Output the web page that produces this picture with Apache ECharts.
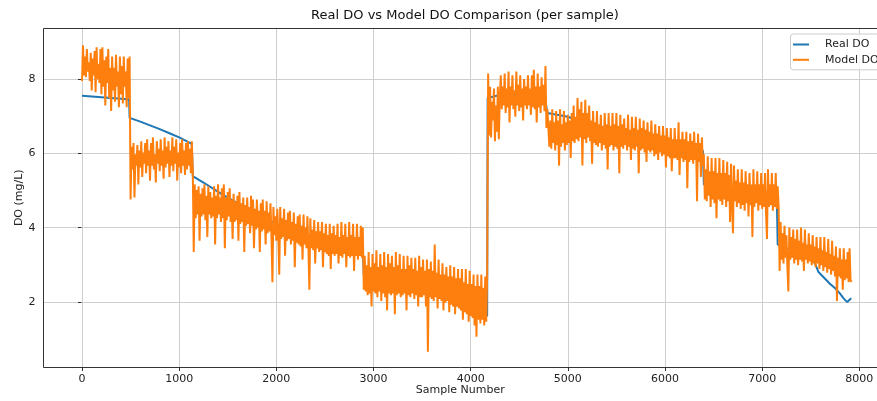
<!DOCTYPE html>
<html><head><meta charset="utf-8">
<script src="https://cdn.jsdelivr.net/npm/echarts@6/dist/echarts.min.js"></script>
<style>html,body{margin:0;padding:0;background:#fff}#c{width:877px;height:401px}</style>
</head><body><div id="c"></div>
<script>
// ---- tick labels ----
const xTickValues = [0, 1000, 2000, 3000, 4000, 5000, 6000, 7000, 8000];
const yTickValues = [2, 4, 6, 8];

// ---- Real DO (sample number, value) ----
const realSamples = [0,100,200,300,400,485, 490,600,700,800,900,1000,1100,1130,
  1140,1250,1450,1600,1800,2000,2200,2400,2600,2890,
  2900,3200,3500,3700,3950,4020,4170,
  4175,4300,4500,4770,
  4790,5000,5300,5600,6000,6390,
  6400,6800,7150,
  7160,7400,7532,7580,7700,7755,7800,7838,7875,7917];
const realValues = [7.56,7.54,7.52,7.5,7.48,7.46, 6.97,6.87,6.77,6.67,6.56,6.45,6.32,6.28,
  5.42,5.25,4.92,4.7,4.4,4.15,3.95,3.8,3.65,3.5,
  2.8,2.65,2.45,2.25,2.02,1.86,1.7,
  7.5,7.58,7.5,7.4,
  7.1,7.0,6.7,6.55,6.3,6.1,
  5.2,5.05,4.95,
  3.6,3.35,3.18,2.87,2.55,2.43,2.3,2.17,2.07,2.17];

// ---- Model DO, read every 10 samples, per segment ----
const sampleStep = 10;
const segmentStarts = [0, 500, 1150, 2900, 4180, 4800, 6400, 7180];
const model1 = [
  7.95,8.9,8.1,8.6,8.05,8.8,8.2,8.45,7.95,8.7,
  7.7,8.55,8.1,8.75,7.65,8.85,8.0,8.4,7.9,8.8,
  7.6,8.85,7.8,8.5,7.3,8.6,7.9,8.8,7.5,8.3,
  7.15,8.6,7.7,8.3,7.4,8.65,7.8,8.2,7.25,8.6,
  7.6,8.35,7.35,8.6,7.8,8.2,7.25,8.55,7.5,8.6];
const model2 = [
  4.8,6.2,5.6,6.3,4.85,6.0,5.7,6.25,5.2,6.1,
  5.65,6.35,5.4,6.05,5.75,6.3,5.5,6.4,5.7,6.1,
  5.3,6.3,5.7,6.45,5.6,6.0,5.25,6.35,5.75,6.15,
  5.55,6.4,5.7,6.1,5.35,6.45,5.65,6.2,5.75,6.35,
  5.4,6.1,5.7,6.45,5.55,6.2,5.75,6.4,5.3,6.05,
  5.65,6.3,5.5,6.4,5.7,6.1,5.45,6.3,5.6,6.35,
  5.7,6.15,5.5,6.35,5.6];
const model3 = [
  3.4,5.2,4.3,5.05,4.4,5.15,3.7,4.95,4.35,5.1,
  4.4,5.2,4.25,4.9,3.8,5.15,4.4,5.0,4.3,4.85,
  4.35,5.15,3.6,4.9,4.3,5.2,4.4,4.85,4.2,5.1,
  4.3,5.2,3.5,4.85,4.25,5.0,4.35,5.1,4.2,4.8,
  3.75,4.95,4.2,4.75,4.25,4.9,3.7,5.0,4.15,4.7,
  4.2,4.85,3.4,4.65,4.1,4.85,4.15,4.6,3.9,4.9,
  4.1,4.8,3.5,4.55,4.0,4.8,4.05,4.5,3.4,4.7,
  3.95,4.8,4.0,4.5,3.6,4.75,3.9,4.45,3.95,4.7,
  3.8,2.6,4.6,3.85,4.35,3.7,4.55,3.9,2.8,4.6,
  3.75,4.3,3.8,4.55,3.3,4.25,3.7,4.45,3.75,4.5,
  3.6,4.2,3.7,4.45,3.0,4.15,3.65,4.35,3.6,4.4,
  3.55,4.1,3.2,4.4,3.6,4.05,3.5,4.35,3.55,2.4,
  4.3,3.5,4.0,3.45,4.25,3.1,3.95,3.5,4.2,3.4,
  3.95,3.45,4.2,3.0,3.9,3.4,4.15,3.35,3.85,3.3,
  4.15,2.95,3.9,3.35,4.1,3.3,3.85,3.35,4.15,3.1,
  3.8,3.3,4.2,3.25,3.85,3.35,4.15,3.0,3.8,3.3,
  4.2,3.25,3.85,3.3,4.15,2.9,3.8,3.3,4.15,3.2,
  3.8,3.3,4.1,3.25,4.05];
const model4 = [
  2.4,3.3,2.35,3.05,2.25,3.4,2.3,3.0,1.95,3.35,
  2.35,3.1,2.3,3.45,2.2,3.0,2.35,3.35,2.1,3.05,
  2.3,3.4,2.2,3.0,1.85,3.35,2.3,3.1,2.25,3.3,
  2.3,3.0,1.75,3.4,2.25,3.05,2.3,3.35,2.2,2.95,
  2.25,3.3,2.3,2.95,1.85,3.3,2.25,3.05,2.2,3.25,
  2.3,2.95,2.15,3.25,2.25,2.9,1.95,3.3,2.2,3.0,
  2.2,3.2,2.25,2.9,1.95,3.2,0.75,2.95,2.2,3.15,
  2.15,2.9,2.1,3.6,2.2,2.85,1.9,3.2,2.15,2.8,
  2.1,3.1,1.85,2.8,2.05,3.0,2.1,2.75,1.8,3.05,
  2.0,2.75,1.95,3.0,1.75,2.7,1.95,2.95,1.9,2.7,
  1.85,2.95,1.6,2.6,1.8,2.95,1.75,2.55,1.55,2.9,
  1.7,2.55,1.65,2.8,1.45,2.5,1.15,2.8,1.6,2.5,
  1.5,2.8,1.6,2.45,1.45,2.75,1.55,2.8];
const model5 = [
  8.15,6.5,7.8,6.45,7.4,6.9,7.75,6.35,7.3,6.6,
  7.8,6.4,7.5,8.1,7.2,7.8,7.3,8.15,7.1,7.75,
  7.25,8.2,6.85,7.8,7.3,8.1,7.2,7.7,7.0,8.2,
  7.3,7.85,7.15,8.1,7.25,7.75,6.9,8.0,7.3,7.8,
  7.2,8.1,7.3,7.75,7.05,8.1,7.25,8.25,7.2,7.8,
  6.85,8.15,7.25,7.8,7.1,8.05,7.3,7.85,7.15,8.35,
  6.7,7.2];
const model6 = [
  7.25,6.2,6.9,6.15,7.2,6.3,6.85,6.1,7.15,6.25,
  6.9,5.7,7.2,6.2,6.8,6.3,7.15,6.1,6.85,6.25,
  7.05,6.3,6.9,5.9,7.1,6.35,7.3,6.3,7.0,6.4,
  7.5,6.35,7.2,6.45,7.4,5.7,7.1,6.4,7.45,6.3,
  7.1,6.45,7.3,6.35,6.9,5.75,7.15,6.3,6.85,6.25,
  7.15,6.2,6.8,6.3,7.05,6.1,6.75,6.25,7.1,6.15,
  6.8,5.6,7.1,6.2,6.75,6.25,7.1,6.1,6.8,6.2,
  7.1,6.15,6.75,5.5,7.05,6.2,6.8,6.15,6.95,6.25,
  6.7,6.1,7.05,6.2,6.65,5.85,7.0,6.15,6.7,6.1,
  7.0,6.2,6.65,5.5,6.95,6.1,6.7,6.15,6.9,6.05,
  6.65,5.8,6.85,6.1,6.6,6.05,6.9,6.1,6.55,5.95,
  6.8,6.0,6.55,5.85,6.75,6.05,6.5,5.95,6.75,6.0,
  6.5,5.65,6.7,5.95,6.45,5.9,6.7,5.55,6.4,5.9,
  6.7,5.9,6.4,5.85,6.85,5.45,6.4,5.9,6.6,5.8,
  6.4,5.85,6.6,5.1,6.35,5.8,6.55,5.85,6.35,5.75,
  6.6,5.85,6.3,4.75,6.55,5.8,6.3,5.4,6.45,5.7];
const model7 = [
  6.0,4.8,5.6,4.75,5.95,4.9,5.55,4.6,5.9,4.8,
  5.55,4.7,5.9,4.3,5.5,4.8,5.9,4.75,5.5,4.65,
  5.85,4.8,5.5,4.6,5.8,4.75,5.45,4.2,5.75,4.7,
  3.9,5.7,4.75,5.3,4.6,5.6,4.7,5.25,4.55,5.6,
  4.65,5.25,4.5,5.55,4.7,5.2,4.35,5.5,4.65,5.2,
  3.8,5.6,4.6,5.2,4.7,5.55,4.5,5.2,4.65,5.5,
  4.55,5.2,4.6,5.5,4.45,3.75,5.6,4.6,5.2,4.65,
  5.5,4.5,5.2,4.6,5.5,4.55,5.15,4.6];
const model8 = [
  2.9,4.2,3.2,3.9,3.1,4.1,3.25,3.85,3.0,2.35,
  4.05,3.2,3.8,3.25,4.0,3.1,3.75,3.2,4.0,3.05,
  3.7,3.2,4.05,3.15,3.65,2.9,4.0,3.2,3.6,3.1,
  3.9,3.15,3.6,3.05,3.85,3.1,3.55,3.0,3.8,3.1,
  3.5,2.95,3.8,3.05,3.45,2.9,3.8,3.0,3.4,2.85,
  3.75,2.95,3.35,2.8,3.7,2.9,3.3,2.75,3.55,2.1,
  3.25,2.75,3.5,2.7,3.2,2.4,3.5,2.65,3.2,2.7,
  3.4,2.6,3.5,2.65,2.6];
const modelSegments = [model1, model2, model3, model4, model5, model6, model7, model8];

// ---- build series data ----
const realData = realSamples.map((s, i) => [s, realValues[i]]);
const modelData = [];
modelSegments.forEach((seg, k) => {
  seg.forEach((v, i) => modelData.push([segmentStarts[k] + i * sampleStep, v]));
});

const FONT = 'DejaVu Sans';
const chart = echarts.init(document.getElementById('c'), null, {renderer: 'canvas'});
chart.setOption({
  animation: false,
  backgroundColor: '#ffffff',
  title: {
    text: 'Real DO vs Model DO Comparison (per sample)',
    left: 460, top: 4, textAlign: 'center',
    textStyle: {fontFamily: FONT, fontSize: 13, fontWeight: 'normal', color: '#111'}
  },
  legend: {
    orient: 'vertical', left: 790.5, top: 34,
    padding: [3.5, 4, 3, 2.5], itemGap: 1.3, itemWidth: 16, itemHeight: 2,
    icon: 'rect',
    backgroundColor: 'rgba(255,255,255,0.8)', borderColor: '#cccccc', borderWidth: 1, borderRadius: 3,
    textStyle: {fontFamily: FONT, fontSize: 11, color: '#222', lineHeight: 14, padding: [0, 0, 0, 11]},
    data: ['Real DO', 'Model DO']
  },
  grid: [
    {left: 82, right: 17.7, top: 28, bottom: 33.5},
    {left: 43.6, right: -11, top: 79.1, bottom: 96.3}
  ],
  xAxis: [
    {gridIndex: 0, type: 'value', min: xTickValues[0], max: xTickValues[xTickValues.length - 1],
      interval: xTickValues[1] - xTickValues[0],
      axisLine: {show: false},
      axisTick: {show: true, length: 3.5, lineStyle: {color: '#333', width: 1}},
      axisLabel: {fontFamily: FONT, fontSize: 11, color: '#222', margin: 6, formatter: v => String(v)},
      splitLine: {show: true, lineStyle: {color: '#cfcfcf', width: 1}}},
    {gridIndex: 1, type: 'value', min: -395, max: 8295,
      axisLine: {show: false}, axisTick: {show: false}, axisLabel: {show: false}, splitLine: {show: false},
      name: 'Sample Number', nameLocation: 'middle', nameGap: 83,
      nameTextStyle: {fontFamily: FONT, fontSize: 11, color: '#222'}}
  ],
  yAxis: [
    {gridIndex: 0, type: 'value', min: 0.33, max: 9.36,
      axisLine: {show: false}, axisTick: {show: false}, axisLabel: {show: false}, splitLine: {show: false},
      name: 'DO (mg/L)', nameLocation: 'middle', nameGap: 57,
      nameTextStyle: {fontFamily: FONT, fontSize: 11, color: '#222'}},
    {gridIndex: 1, type: 'value', min: yTickValues[0], max: yTickValues[yTickValues.length - 1],
      interval: yTickValues[1] - yTickValues[0],
      axisLine: {show: false},
      axisTick: {show: true, length: 3.5, lineStyle: {color: '#333', width: 1}},
      axisLabel: {fontFamily: FONT, fontSize: 11, color: '#222', margin: 8, formatter: v => String(v)},
      splitLine: {show: true, lineStyle: {color: '#cfcfcf', width: 1}}}
  ],
  graphic: [{
    type: 'rect', silent: true, z: 50,
    shape: {x: 43.5, y: 28.5, width: 900, height: 339},
    style: {fill: 'none', stroke: '#333', lineWidth: 1}
  }],
  series: [
    {name: 'Real DO', type: 'line', xAxisIndex: 0, yAxisIndex: 0, data: realData,
      symbol: 'none', showSymbol: false, lineStyle: {color: '#1f77b4', width: 2}, itemStyle: {color: '#1f77b4'}},
    {name: 'Model DO', type: 'line', xAxisIndex: 0, yAxisIndex: 0, data: modelData,
      symbol: 'none', showSymbol: false, sampling: null, lineStyle: {color: '#ff7f0e', width: 2}, itemStyle: {color: '#ff7f0e'}}
  ]
});
</script></body></html>
